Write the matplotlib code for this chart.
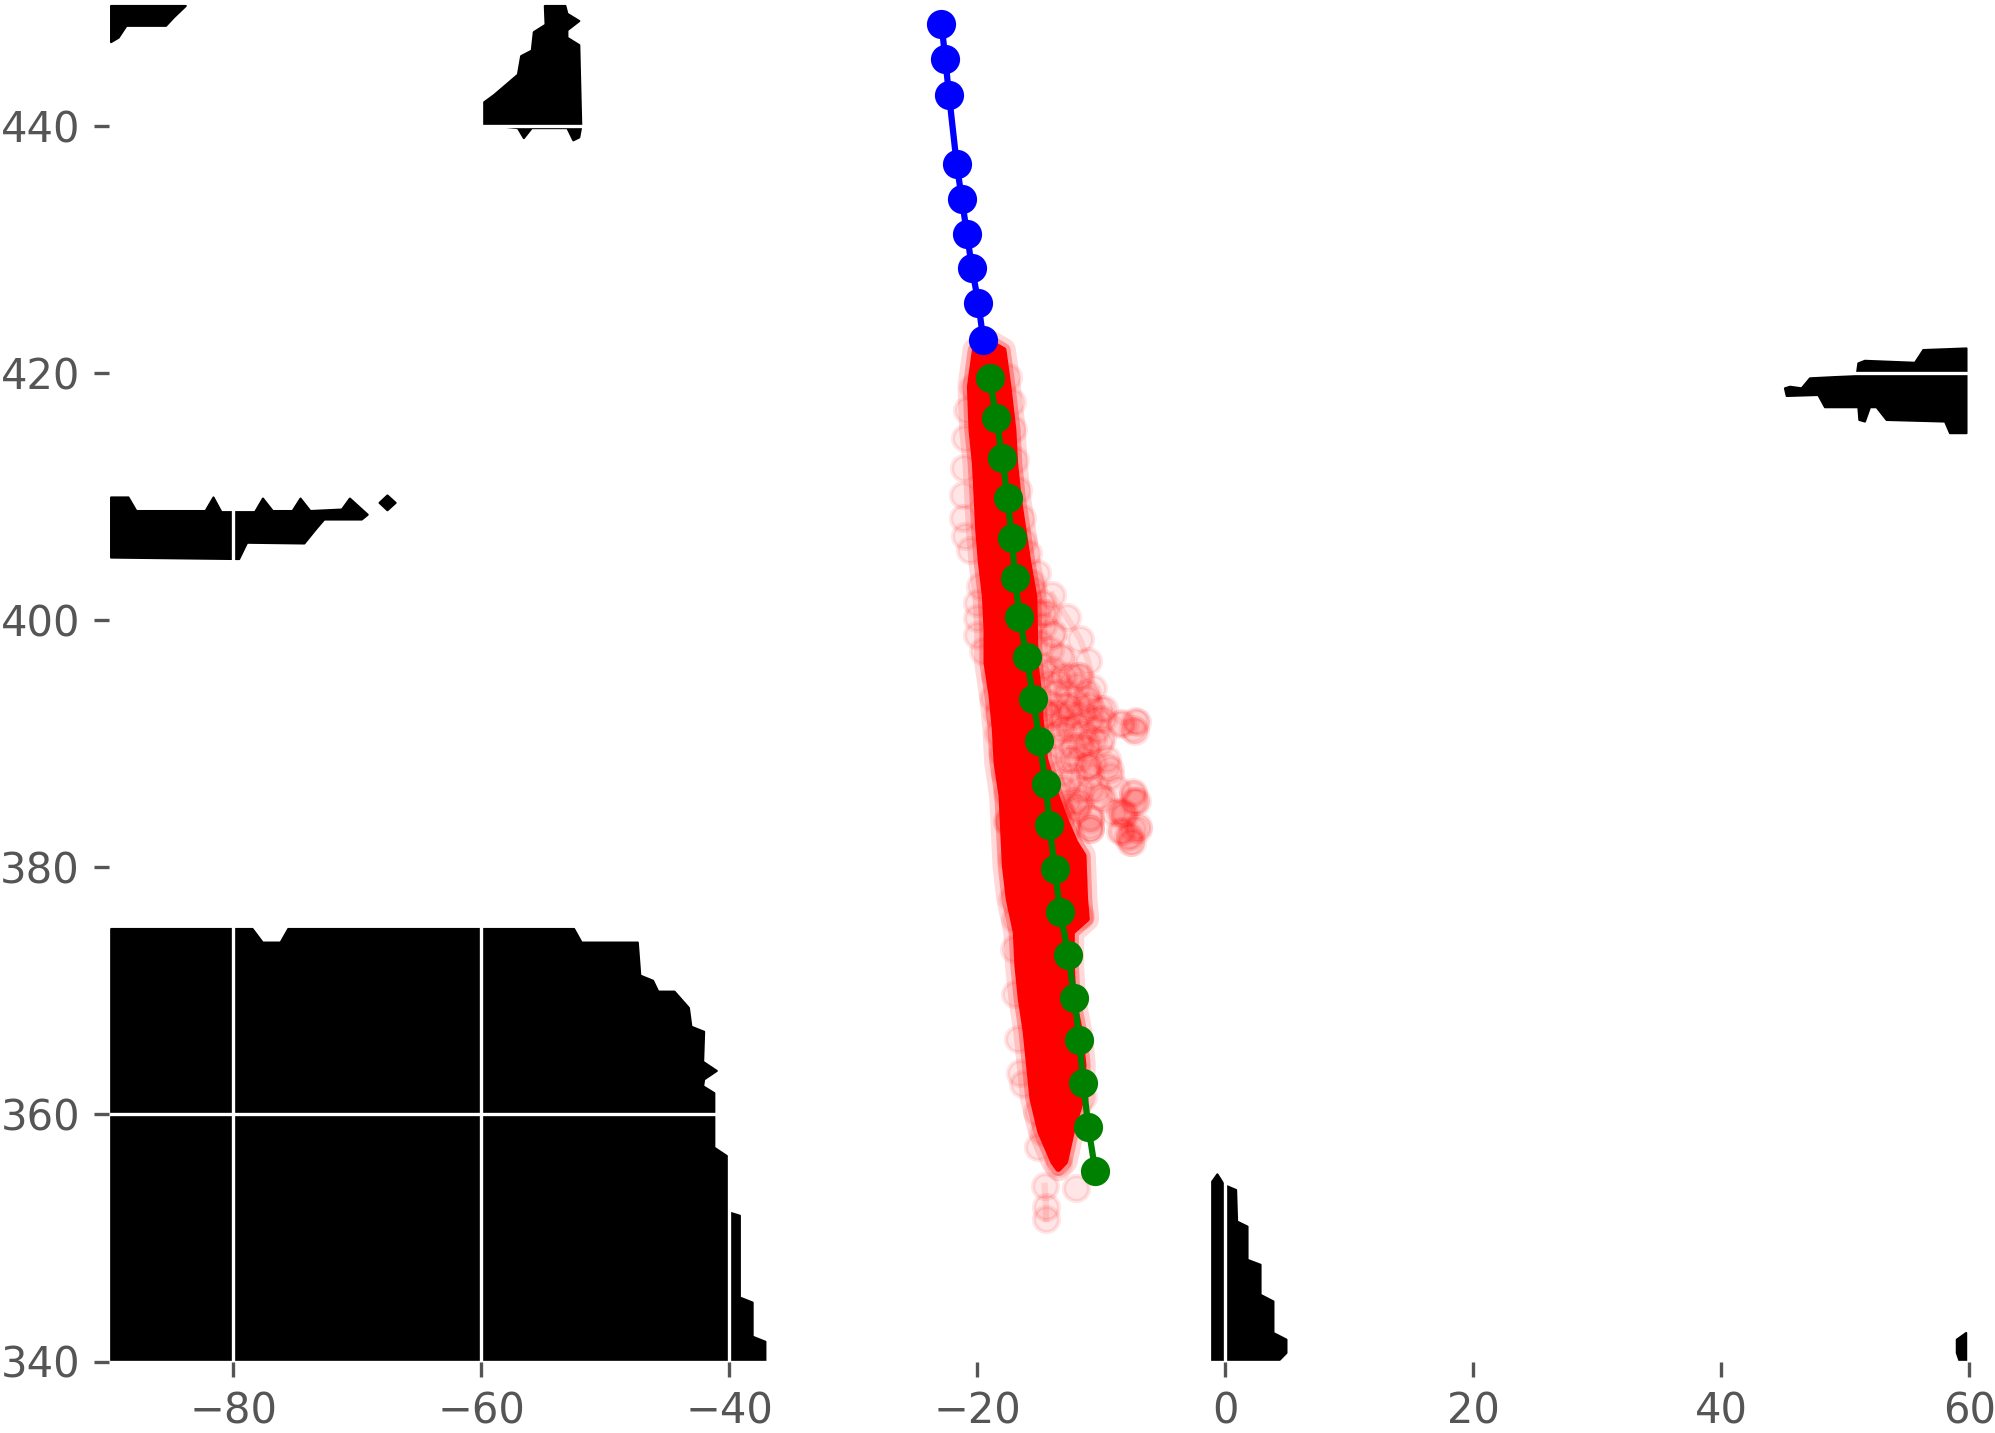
import matplotlib
matplotlib.use("Agg")
import matplotlib.pyplot as plt

# Track forecast points
blue_x = [-22.88, -22.57, -22.27, -21.65, -21.24, -20.83, -20.42, -19.91, -19.51]
blue_y = [448.28, 445.40, 442.50, 436.90, 434.10, 431.30, 428.50, 425.70, 422.70]

green_x = [-18.99, -18.46, -17.98, -17.54, -17.22, -16.93, -16.60, -16.01, -15.48, -14.99,
           -14.48, -14.17, -13.75, -13.30, -12.65, -12.17, -11.77, -11.44, -11.04, -10.48]
green_y = [419.58, 416.35, 413.14, 409.89, 406.66, 403.42, 400.27, 397.04, 393.65, 390.26,
           386.78, 383.42, 379.84, 376.37, 372.92, 369.42, 366.03, 362.55, 359.00, 355.44]

# Solid part of the red band, outline
core_x = [-20.18, -20.58, -20.45, -20.18, -20.04, -19.91, -19.69, -19.37, -19.24, -19.24,
          -18.83, -18.57, -18.43, -18.03, -17.89, -17.76, -17.45, -16.88, -16.75, -16.48,
          -16.08, -15.81, -15.54, -14.90, -13.86, -13.46, -12.92, -12.38, -11.58, -11.44,
          -11.71, -12.25, -12.38, -12.38, -11.17, -11.31, -11.44, -12.11, -12.92, -13.72,
          -14.53, -14.90, -15.00, -15.30, -15.40, -15.88, -16.28, -16.68, -16.95, -17.09,
          -17.49, -17.89, -19.00]
core_y = [421.86, 418.90, 415.40, 412.71, 410.02, 407.33, 404.63, 401.94, 399.25, 396.55,
          393.86, 391.17, 388.48, 385.78, 382.83, 380.13, 377.44, 374.75, 372.06, 369.36,
          366.67, 363.98, 361.29, 358.60, 356.17, 355.60, 356.17, 358.60, 361.29, 363.98,
          366.67, 369.36, 372.06, 374.75, 375.83, 377.44, 380.94, 382.02, 383.90, 386.06,
          388.75, 392.00, 394.00, 396.50, 401.90, 404.63, 407.33, 410.02, 412.71, 415.40,
          418.90, 421.86, 422.50]

# Faint particles around the band
left_x = [-20.31, -20.80, -20.99, -21.07, -21.12, -21.12, -20.99, -20.58, -19.78, -20.04,
          -20.04, -20.04, -19.51, -18.57, -18.70, -18.43, -18.30, -18.03, -17.76, -17.63,
          -17.49, -17.62, -17.22, -17.22, -16.95, -17.03, -16.95, -16.68, -16.55, -16.28,
          -15.20, -14.67, -15.07]
left_y = [418.85, 417.02, 414.78, 412.31, 410.15, 408.27, 406.79, 405.71, 402.75, 401.40,
          400.19, 398.84, 397.50, 395.48, 393.73, 392.38, 390.90, 389.29, 387.67, 386.05,
          383.63, 383.77, 380.67, 377.44, 375.83, 373.40, 369.71, 366.13, 363.39, 362.50,
          360.21, 358.60, 357.38]

right_x = [-17.49, -17.22, -17.09, -16.95, -16.68, -16.42, -16.28, -15.88, -15.21, -15.61,
           -11.71, -12.25, -12.25, -11.44, -13.46]
right_y = [419.71, 417.69, 415.48, 412.98, 410.56, 408.27, 406.38, 405.44, 403.82, 403.02,
           376.10, 379.06, 380.67, 361.42, 356.04]

arc_x = [-13.96, -12.79, -11.71, -11.04, -10.64, -9.78, -8.35, -7.14, -7.28]
arc_y = [402.07, 400.27, 398.49, 396.69, 394.54, 392.79, 391.71, 391.79, 391.04]

tail_x = [-14.56, -14.45, -14.45]
tail_y = [354.21, 352.54, 351.54]

cloud_x = [-14.67, -14.00, -13.19, -11.85, -13.46, -12.65, -11.17, -11.98, -10.37, -9.96,
           -11.17, -12.38, -9.29, -11.04, -12.11, -10.90, -7.41, -7.28, -8.08, -7.01,
           -10.90, -13.32, -12.79, -13.86, -14.40, -13.19, -11.71, -10.64, -9.56, -10.10,
           -9.02, -10.90, -10.90, -8.22, -8.35, -7.54, -7.00, -7.81, -12.78, -11.98,
           -7.14, -12.03]
cloud_y = [400.59, 398.84, 396.96, 395.48, 394.94, 393.05, 393.59, 391.44, 391.98, 390.50,
           389.55, 388.75, 387.94, 388.21, 385.38, 386.32, 385.92, 385.38, 384.30, 383.36,
           383.36, 384.71, 386.86, 390.63, 392.52, 391.17, 389.82, 390.36, 388.75, 385.78,
           384.44, 383.10, 384.04, 384.44, 382.96, 382.02, 383.10, 382.42, 383.10, 384.98,
           385.39, 354.07]

dense_x = [-15.47, -14.80, -15.20, -14.40, -14.67, -13.86, -14.93, -14.13, -13.32, -14.67,
           -13.86, -13.05, -14.93, -14.13, -12.51, -13.59, -12.78, -11.71, -11.98, -11.17,
           -14.13, -13.05, -11.98, -10.90, -14.67, -10.10, -13.59, -12.51, -11.44, -14.13,
           -13.05, -11.98, -10.90, -9.83, -13.59, -12.51, -11.44, -10.36, -13.32, -12.25,
           -11.17, -10.10, -13.86, -12.78, -11.71, -10.63, -11.17, -9.56, -13.32, -12.25,
           -10.90, -9.29, -13.05, -11.71, -10.36, -8.75, -12.78, -11.71, -9.83, -10.90,
           -10.90, -11.98, -13.05, -8.48, -8.21, -7.41, -7.41, -7.41, -7.68, -7.68,
           -8.48, -7.27, -7.41, -8.48]
dense_y = [402.47, 401.40, 400.59, 400.59, 399.51, 398.97, 398.17, 397.63, 397.09, 396.28,
           396.01, 395.47, 395.47, 394.94, 395.47, 394.13, 394.13, 395.47, 394.67, 394.13,
           393.32, 393.05, 393.32, 393.05, 392.78, 392.78, 392.51, 392.51, 392.51, 392.25,
           391.98, 392.25, 391.98, 391.98, 390.90, 391.17, 390.90, 391.17, 389.83, 389.83,
           390.10, 390.10, 388.75, 388.75, 388.75, 388.48, 388.21, 388.21, 387.67, 387.40,
           387.40, 387.40, 386.33, 386.33, 386.33, 386.33, 385.25, 385.25, 385.52, 383.90,
           383.10, 384.71, 384.17, 384.44, 384.17, 386.06, 385.38, 383.10, 382.56, 382.02,
           382.96, 391.85, 391.17, 391.58]

# Land shapes
south_x = [-89.84, -89.84, -78.44, -77.62, -76.18, -75.56, -52.51, -51.90, -47.37, -47.17,
           -46.14, -45.72, -44.41, -43.25, -43.05, -42.02, -42.10, -41.00, -42.02, -42.10,
           -41.20, -41.20, -40.17, -40.05, -39.14, -39.14, -38.11, -38.11, -37.08, -37.08]
south_y = [340.00, 375.01, 375.01, 373.91, 373.91, 375.01, 375.01, 373.91, 373.91, 371.24,
           370.82, 369.94, 369.94, 368.62, 367.10, 366.69, 364.26, 363.52, 362.83, 362.28,
           361.72, 357.31, 356.62, 352.08, 351.80, 345.18, 344.77, 342.01, 341.60, 340.00]

corner_x = [-89.85, -83.82, -84.78, -85.42, -88.61, -89.24, -89.85]
corner_y = [449.72, 449.72, 448.80, 448.11, 448.11, 447.15, 446.79]

island_x = [-59.97, -58.95, -57.04, -56.78, -55.92, -55.76, -54.81, -54.87, -53.21, -53.05,
            -52.09, -53.05, -53.05, -52.09, -51.93, -52.09, -52.57, -53.05, -55.92, -56.56,
            -57.04, -59.97]
island_y = [441.77, 442.52, 444.16, 445.66, 446.11, 447.60, 448.20, 449.72, 449.72, 449.09,
            448.50, 447.75, 447.15, 446.55, 439.98, 439.08, 438.84, 439.83, 439.83, 439.02,
            439.83, 440.13]

band_x = [-89.85, -88.45, -87.81, -82.23, -81.59, -80.95, -78.24, -77.60, -76.81, -75.21,
          -74.57, -73.78, -71.23, -70.59, -69.15, -69.63, -72.66, -73.30, -74.26, -78.88,
          -79.52, -89.85]
band_y = [409.94, 409.94, 408.84, 408.84, 409.94, 408.75, 408.75, 409.85, 408.84, 408.84,
          409.85, 408.84, 408.96, 409.85, 408.54, 408.15, 408.15, 407.40, 406.21, 406.27,
          404.95, 405.07]

dot_x = [-68.20, -67.56, -66.90, -67.56]
dot_y = [409.50, 410.10, 409.50, 408.90]

east_x = [45.14, 45.55, 46.49, 47.16, 50.92, 51.06, 51.59, 55.63, 56.30, 59.79,
          59.79, 58.45, 58.05, 53.34, 52.53, 52.00, 51.59, 51.14, 51.06, 48.37,
          47.83, 45.28]
east_y = [418.77, 418.90, 418.77, 419.58, 419.77, 420.79, 421.00, 420.84, 421.87, 422.00,
          415.14, 415.14, 416.08, 416.21, 417.24, 417.24, 416.08, 416.21, 417.24, 417.24,
          418.23, 418.15]

mid_x = [-1.05, -1.05, -0.63, -0.09, 0.88, 0.96, 1.80, 1.80, 2.85, 2.85,
         3.89, 3.89, 4.94, 4.94, 4.31]
mid_y = [340.05, 354.56, 355.15, 354.29, 353.88, 351.33, 350.92, 348.23, 347.83, 345.40,
         344.86, 342.31, 341.77, 340.69, 340.05]

edge_x = [59.76, 59.00, 59.00, 59.22, 59.76]
edge_y = [342.31, 341.77, 340.69, 340.05, 340.05]

land_shapes = [(south_x, south_y), (corner_x, corner_y), (island_x, island_y), (band_x, band_y),
               (dot_x, dot_y), (east_x, east_y), (mid_x, mid_y), (edge_x, edge_y)]

x_ticks = [-80, -60, -40, -20, 0, 20, 40, 60]
y_ticks = [340, 360, 380, 400, 420, 440]

W, H = 1995, 1433
fig = plt.figure(figsize=(W / 300, H / 300), dpi=300, facecolor="white")
ax = fig.add_axes([109.2 / W, (H - 1361.5) / H, 1860 / W, 1359 / H])

for lx, ly in land_shapes:
    ax.fill(lx, ly, color="black", linewidth=0.5, joinstyle="round", zorder=1)

# Faint red particles, then the solid core, then the forecast tracks
for px, py in [(left_x, left_y), (right_x, right_y), (cloud_x, cloud_y), (dense_x, dense_y)]:
    ax.plot(px, py, "o", color="red", alpha=0.1, zorder=2)
for px, py in [(arc_x, arc_y), (tail_x, tail_y)]:
    ax.plot(px, py, "o-", color="red", alpha=0.1, zorder=2)

# soft edge on the core, the real one is made of thousands of overlapping circles
ax.fill(core_x, core_y, color="red", linewidth=6, joinstyle="round", alpha=0.15, zorder=2.1)
ax.fill(core_x, core_y, color="red", linewidth=3.5, joinstyle="round", alpha=0.3, zorder=2.1)
ax.fill(core_x, core_y, color="red", linewidth=1.5, joinstyle="round", zorder=2.2)

ax.plot(blue_x, blue_y, "o-", color="blue", zorder=3)
ax.plot(green_x, green_y, "o-", color="green", zorder=3)

ax.set_xlim(-90, 60)
ax.set_ylim(340, 450)
ax.set_xticks(x_ticks)
ax.set_yticks(y_ticks)
ax.tick_params(colors="#555555", labelsize=10)
ax.grid(True, color="white", linewidth=0.8)
ax.set_axisbelow("line")
for spine in ax.spines.values():
    spine.set_visible(False)

fig.savefig("out.png", dpi=300)
